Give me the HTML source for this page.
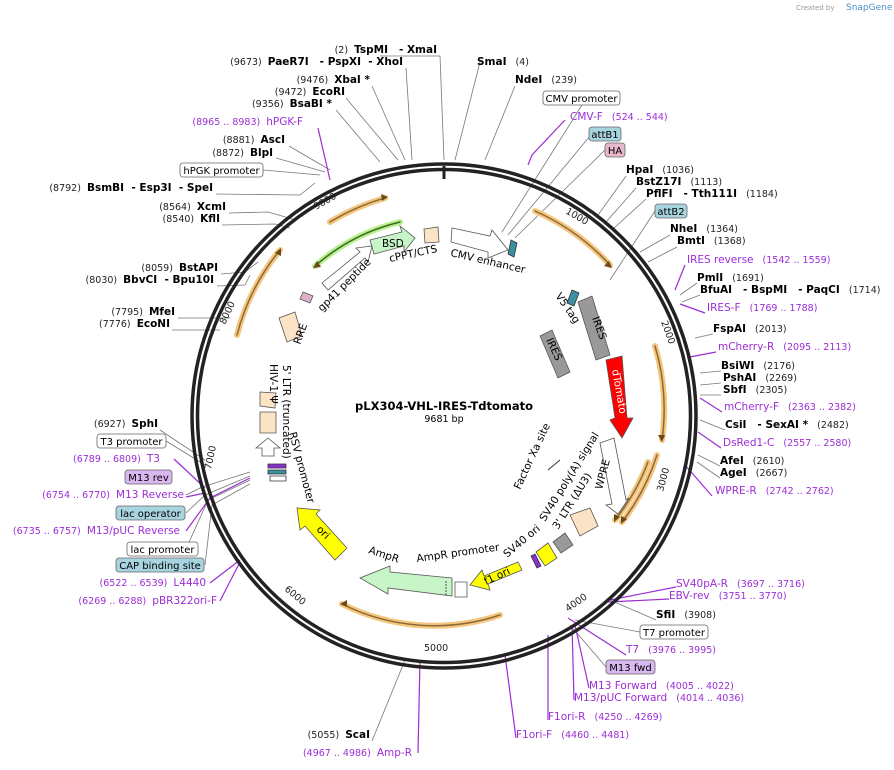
<!DOCTYPE html>
<html><head><meta charset="utf-8"><style>
html,body{margin:0;padding:0;background:#fff;}
svg{display:block;font-family:"DejaVu Sans","Liberation Sans",sans-serif;}
text{white-space:pre}
.b{font-weight:bold;font-size:10.5px;fill:#000}
.n{font-size:9.5px;fill:#222}
.p{font-size:9.5px;fill:#9c2dd6}
.pl{font-size:10.5px;fill:#9c2dd6}
.f{font-size:10.5px;fill:#000}
.ln{stroke:#777;stroke-width:0.8;fill:none}
.pln{stroke:#9c2dd6;stroke-width:1.2;fill:none}
.box{fill:#fff;stroke:#666;stroke-width:0.8}
.bt{font-size:10px;fill:#000}
</style></head><body>
<svg width="894" height="770" viewBox="0 0 894 770">
<text x="796" y="10" font-size="7" fill="#999">Created by</text><text x="846" y="10" font-size="9" fill="#4a90c8">SnapGene</text>
<g class="ln">
<path d="M380 56 L440 56 L444 160"/><path d="M406 68 L412 160"/><path d="M372 86 L405 160"/><path d="M346 98 L398 160"/><path d="M336 110 L380 162"/>
<path d="M289 146 L330 170"/><path d="M276 158 L325 172"/><path d="M263 170 L320 175"/><path d="M216 194 L300 195 L315 183"/>
<path d="M229 213 L268 212 L296 220"/><path d="M222 225 L275 224 L290 228"/><path d="M221 274 L245 272 L258 262"/><path d="M217 286 L245 285 L250 275"/>
<path d="M178 318 L230 318"/><path d="M172 330 L220 330"/>
<path d="M160 430 L205 460"/><path d="M166 441 L205 465"/><path d="M186 495 L202 487 L250 472"/><path d="M186 513 L205 495 L250 476"/><path d="M186 549 L208 500 L250 480"/><path d="M205 565 L212 505 L250 484"/>
<path d="M372 741 L405 660"/><path d="M480 62 L455 160"/><path d="M515 86 L485 160"/><path d="M582 105 L502 232"/><path d="M590 136 L508 235"/><path d="M605 150 L515 238"/>
<path d="M626 176 L598 215"/><path d="M636 188 L606 222"/><path d="M646 199 L614 228"/><path d="M655 211 L610 280"/><path d="M670 235 L640 252"/><path d="M677 247 L648 262"/>
<path d="M697 283 L680 295"/><path d="M700 295 L682 302"/><path d="M713 334 L695 338"/><path d="M721 371 L700 373"/><path d="M721 383 L700 385"/><path d="M721 395 L700 395"/><path d="M725 430 L700 420"/><path d="M720 466 L698 455"/><path d="M720 478 L697 462"/>
<path d="M656 620 L610 600"/><path d="M640 632 L575 620"/><path d="M606 667 L570 625"/>
</g>
<g class="pln">
<path d="M318 128 L330 180"/><path d="M565 120 L532 155 L528 165"/><path d="M685 265 L675 290"/><path d="M705 313 L680 304"/><path d="M716 352 L690 357"/><path d="M722 412 L700 398"/><path d="M721 448 L698 432"/><path d="M712 496 L685 465"/>
<path d="M174 459 L205 488"/><path d="M186 497 L205 493"/><path d="M186 531 L210 498 L250 478"/><path d="M210 583 L240 560"/><path d="M220 601 L240 562"/>
<path d="M418 753 L420 660"/><path d="M676 587 L610 600"/><path d="M669 599 L608 602"/><path d="M626 655 L568 618"/><path d="M589 688 L575 625"/><path d="M574 700 L572 625"/><path d="M548 720 L548 635"/><path d="M516 738 L505 655"/>
</g>
<circle cx="444" cy="416" r="252" fill="none" stroke="#222" stroke-width="3.5"/>
<circle cx="444" cy="416" r="246.5" fill="none" stroke="#222" stroke-width="3.5"/>
<line x1="444" y1="166" x2="444" y2="179" stroke="#222" stroke-width="3"/>
<g fill="none" stroke-linecap="round">
<g stroke="#f5c77e" stroke-width="6">
<path d="M535 211 A225 225 0 0 1 610 265"/><path d="M655 346 A223 223 0 0 1 662 440"/><path d="M657 455 A220 220 0 0 1 622 522"/><path d="M648 462 A210 210 0 0 1 615 520"/>
<path d="M500 615 A207 207 0 0 1 342 604"/><path d="M237 335 A222 222 0 0 1 280 250"/><path d="M330 222 A227 227 0 0 1 385 198"/></g>
<g stroke="#8a6a3a" stroke-width="1.5">
<path d="M535 211 A225 225 0 0 1 610 265"/><path d="M655 346 A223 223 0 0 1 662 440"/><path d="M657 455 A220 220 0 0 1 622 522"/><path d="M648 462 A210 210 0 0 1 615 520"/>
<path d="M500 615 A207 207 0 0 1 342 604"/><path d="M237 335 A222 222 0 0 1 280 250"/><path d="M330 222 A227 227 0 0 1 385 198"/></g>
<path d="M315 266 A200 200 0 0 1 400 222" stroke="#b8f08c" stroke-width="6"/>
<path d="M315 266 A200 200 0 0 1 400 222" stroke="#3c6a2a" stroke-width="1.5"/>
</g>
<g fill="#6b4a1a"><path d="M612 268 l-8 -2 l5 -5z"/><path d="M662 442 l-4 -7 l7 0z"/><path d="M621 524 l0 -8 l6 3z"/><path d="M614 522 l0 -8 l6 3z"/><path d="M340 604 l7 -4 l0 7z"/><path d="M281 248 l0 8 l-6 -3z"/><path d="M388 197 l-7 -3 l1 7z"/><path d="M313 268 l8 -1 l-4 -6z"/></g>
<g stroke="#555" stroke-width="0.8">
<path d="M370 240 L402 232 L400 226 L415 238 L404 252 L404 246 L374 254z" fill="#c8f5c8"/>
<path d="M322 283 L360 252 L356 248 L372 246 L368 262 L365 258 L328 290z" fill="#fff"/>
<path d="M424 229 L438 227 L439 242 L425 243z" fill="#fde3c6"/>
<path d="M452 228 L490 236 L492 230 L508 250 L488 258 L488 252 L451 242z" fill="#fff"/>
<path d="M303 292 L313 296 L310 303 L300 299z" fill="#e0b0c8"/>
<path d="M279 318 L295 312 L302 336 L287 342z" fill="#fde3c6"/>
<path d="M260 392 L276 393 L275 408 L260 406z" fill="#fde3c6"/><path d="M260 412 L276 412 L276 433 L260 433z" fill="#fde3c6"/>
<path d="M262 456 L262 448 L256 448 L268 438 L280 448 L274 448 L274 456z" fill="#fff"/>
<path d="M578 302 L592 296 L610 355 L596 360z" fill="#999"/>
<path d="M540 336 L552 330 L570 372 L558 378z" fill="#999"/>
<path d="M606 360 L622 356 L627 418 L633 418 L622 438 L610 420 L615 418z" fill="#f00"/>
<path d="M600 443 L614 438 L626 500 L629 498 L618 514 L606 505 L612 504z" fill="#fff"/>
<path d="M570 515 L590 508 L598 526 L580 536z" fill="#fde3c6"/>
<path d="M553 542 L565 533 L573 545 L561 553z" fill="#999"/>
<path d="M536 552 L548 543 L557 558 L545 566z" fill="#ff0"/>
<path d="M522 570 L488 584 L490 590 L470 585 L482 570 L484 576 L518 562z" fill="#ff0"/>
<path d="M467 582 L455 582 L455 597 L467 597z" fill="#fff"/>
<path d="M452 578 L390 572 L390 566 L360 578 L388 594 L388 588 L452 596z" fill="#c8f5c8"/>
<path d="M347 548 L316 514 L320 510 L297 508 L300 530 L305 526 L335 560z" fill="#ff0"/>
</g>
<g stroke="#333" stroke-width="0.8"><path d="M446 581 L446 595" stroke-dasharray="2 1"/><path d="M511 240 l6 3 l-3 14 l-6 -3z" fill="#3a8fa0"/><path d="M572 290 l7 3 l-5 13 l-7 -3z" fill="#3a8fa0"/><path d="M268 464 h18 v4 h-18z" fill="#8a30d0"/><path d="M268 470 h18 v4 h-18z" fill="#3a8fa0"/><path d="M270 476 h16 v5 h-16z" fill="#fff"/><path d="M531 556 l4 -2 l6 12 l-4 2z" fill="#8a30d0"/></g>
<line x1="548" y1="470" x2="560" y2="460" stroke="#333"/>
<text x="382" y="247" class="f" font-size="11">BSD</text>
<text x="390" y="262" class="f" transform="rotate(-12 390 262)">cPPT/CTS</text>
<text x="450" y="256" class="f" transform="rotate(13 450 256)">CMV enhancer</text>
<text x="322" y="312" class="f" transform="rotate(-45 322 312)">gp41 peptide</text>
<text x="300" y="345" class="f" transform="rotate(-70 300 345)">RRE</text>
<text x="283" y="365" class="f" transform="rotate(90 283 365)">5' LTR (truncated)</text>
<text x="270" y="364" class="f" transform="rotate(90 270 364)">HIV-1 Ψ</text>
<text x="289" y="433" class="f" transform="rotate(75 289 433)">RSV promoter</text>
<text x="316" y="530" class="f" transform="rotate(45 316 530)">ori</text>
<text x="368" y="553" class="f" transform="rotate(18 368 553)">AmpR</text>
<text x="417" y="562" class="f" transform="rotate(-8 417 562)">AmpR promoter</text>
<text x="486" y="585" class="f" transform="rotate(-25 486 585)">f1 ori</text>
<text x="507" y="558" class="f" transform="rotate(-40 507 558)">SV40 ori</text>
<text x="545" y="522" class="f" transform="rotate(-58 545 522)">SV40 poly(A) signal</text>
<text x="558" y="530" class="f" transform="rotate(-58 558 530)">3' LTR (ΔU3)</text>
<text x="520" y="490" class="f" transform="rotate(-65 520 490)">Factor Xa site</text>
<text x="602" y="490" class="f" transform="rotate(-75 602 490)">WPRE</text>
<text x="612" y="370" font-size="10.5" fill="#fff" transform="rotate(80 612 370)">dTomato</text>
<text x="592" y="318" class="f" transform="rotate(70 592 318)">IRES</text>
<text x="546" y="340" class="f" transform="rotate(65 546 340)">IRES</text>
<text x="555" y="296" class="f" transform="rotate(55 555 296)">V5 tag</text>
<text x="444" y="410" text-anchor="middle" font-weight="bold" font-size="11.5">pLX304-VHL-IRES-Tdtomato</text>
<text x="444" y="422" text-anchor="middle" font-size="9.5">9681 bp</text>
<g class="n" font-size="9.5">
<text x="565" y="213" transform="rotate(30 565 213)">1000</text><text x="661" y="322" transform="rotate(70 661 322)">2000</text><text x="663" y="492" transform="rotate(-75 663 492)">3000</text>
<text x="568" y="612" transform="rotate(-35 568 612)">4000</text><text x="424" y="651">5000</text><text x="284" y="590" transform="rotate(40 284 590)">6000</text>
<text x="211" y="470" transform="rotate(-78 211 470)">7000</text><text x="225" y="325" transform="rotate(-65 225 325)">8000</text><text x="316" y="210" transform="rotate(-30 316 210)">9000</text>
</g>
<g text-anchor="end">
<text x="437" y="53"><tspan class="n">(2)  </tspan><tspan class="b">TspMI   - XmaI</tspan></text>
<text x="403" y="65"><tspan class="n">(9673)  </tspan><tspan class="b">PaeR7I   - PspXI  - XhoI</tspan></text>
<text x="370" y="83"><tspan class="n">(9476)  </tspan><tspan class="b">XbaI *</tspan></text>
<text x="345" y="95"><tspan class="n">(9472)  </tspan><tspan class="b">EcoRI</tspan></text>
<text x="332" y="107"><tspan class="n">(9356)  </tspan><tspan class="b">BsaBI *</tspan></text>
<text x="303" y="125"><tspan class="p">(8965 .. 8983)  </tspan><tspan class="pl">hPGK-F</tspan></text>
<text x="285" y="143"><tspan class="n">(8881)  </tspan><tspan class="b">AscI</tspan></text>
<text x="273" y="156"><tspan class="n">(8872)  </tspan><tspan class="b">BlpI</tspan></text>
<text x="213" y="191"><tspan class="n">(8792)  </tspan><tspan class="b">BsmBI  - Esp3I  - SpeI</tspan></text>
<text x="226" y="210"><tspan class="n">(8564)  </tspan><tspan class="b">XcmI</tspan></text>
<text x="220" y="222"><tspan class="n">(8540)  </tspan><tspan class="b">KflI</tspan></text>
<text x="218" y="271"><tspan class="n">(8059)  </tspan><tspan class="b">BstAPI</tspan></text>
<text x="214" y="283"><tspan class="n">(8030)  </tspan><tspan class="b">BbvCI  - Bpu10I</tspan></text>
<text x="175" y="315"><tspan class="n">(7795)  </tspan><tspan class="b">MfeI</tspan></text>
<text x="170" y="327"><tspan class="n">(7776)  </tspan><tspan class="b">EcoNI</tspan></text>
<text x="158" y="427"><tspan class="n">(6927)  </tspan><tspan class="b">SphI</tspan></text>
<text x="160" y="462"><tspan class="p">(6789 .. 6809)  </tspan><tspan class="pl">T3</tspan></text>
<text x="184" y="498"><tspan class="p">(6754 .. 6770)  </tspan><tspan class="pl">M13 Reverse</tspan></text>
<text x="180" y="534"><tspan class="p">(6735 .. 6757)  </tspan><tspan class="pl">M13/pUC Reverse</tspan></text>
<text x="206" y="586"><tspan class="p">(6522 .. 6539)  </tspan><tspan class="pl">L4440</tspan></text>
<text x="217" y="604"><tspan class="p">(6269 .. 6288)  </tspan><tspan class="pl">pBR322ori-F</tspan></text>
<text x="370" y="738"><tspan class="n">(5055)  </tspan><tspan class="b">ScaI</tspan></text>
<text x="412" y="756"><tspan class="p">(4967 .. 4986)  </tspan><tspan class="pl">Amp-R</tspan></text>
</g>
<rect x="180" y="163" width="83" height="14" rx="3" class="box"/><text x="221.5" y="174" class="bt" text-anchor="middle">hPGK promoter</text>
<rect x="97" y="434" width="69" height="14" rx="3" class="box"/><text x="131.5" y="445" class="bt" text-anchor="middle">T3 promoter</text>
<rect x="125" y="470" width="47" height="14" rx="3" fill="#d9b8f0" stroke="#666" stroke-width="0.8"/><text x="148.5" y="481" class="bt" text-anchor="middle">M13 rev</text>
<rect x="116" y="506" width="69" height="14" rx="3" fill="#a8d4e0" stroke="#666" stroke-width="0.8"/><text x="150.5" y="517" class="bt" text-anchor="middle">lac operator</text>
<rect x="127" y="542" width="71" height="14" rx="3" class="box"/><text x="162.5" y="553" class="bt" text-anchor="middle">lac promoter</text>
<rect x="116" y="558" width="88" height="14" rx="3" fill="#a8d4e0" stroke="#666" stroke-width="0.8"/><text x="160" y="569" class="bt" text-anchor="middle">CAP binding site</text>
<text x="477" y="65"><tspan class="b">SmaI</tspan><tspan class="n">   (4)</tspan></text>
<text x="515" y="83"><tspan class="b">NdeI</tspan><tspan class="n">   (239)</tspan></text>
<rect x="543" y="91" width="77" height="14" rx="3" class="box"/><text x="581.5" y="102" class="bt" text-anchor="middle">CMV promoter</text>
<text x="570" y="120"><tspan class="pl">CMV-F</tspan><tspan class="p">   (524 .. 544)</tspan></text>
<rect x="589" y="127" width="32" height="14" rx="3" fill="#a8d4e0" stroke="#666" stroke-width="0.8"/><text x="605" y="138" class="bt" text-anchor="middle">attB1</text>
<rect x="605" y="143" width="20" height="14" rx="3" fill="#e8b8cc" stroke="#666" stroke-width="0.8"/><text x="615" y="154" class="bt" text-anchor="middle">HA</text>
<text x="626" y="173"><tspan class="b">HpaI</tspan><tspan class="n">   (1036)</tspan></text>
<text x="636" y="185"><tspan class="b">BstZ17I</tspan><tspan class="n">   (1113)</tspan></text>
<text x="646" y="197"><tspan class="b">PflFI   - Tth111I</tspan><tspan class="n">   (1184)</tspan></text>
<rect x="655" y="204" width="32" height="14" rx="3" fill="#a8d4e0" stroke="#666" stroke-width="0.8"/><text x="671" y="215" class="bt" text-anchor="middle">attB2</text>
<text x="670" y="232"><tspan class="b">NheI</tspan><tspan class="n">   (1364)</tspan></text>
<text x="677" y="244"><tspan class="b">BmtI</tspan><tspan class="n">   (1368)</tspan></text>
<text x="687" y="263"><tspan class="pl">IRES reverse</tspan><tspan class="p">   (1542 .. 1559)</tspan></text>
<text x="697" y="281"><tspan class="b">PmlI</tspan><tspan class="n">   (1691)</tspan></text>
<text x="700" y="293"><tspan class="b">BfuAI   - BspMI   - PaqCI</tspan><tspan class="n">   (1714)</tspan></text>
<text x="707" y="311"><tspan class="pl">IRES-F</tspan><tspan class="p">   (1769 .. 1788)</tspan></text>
<text x="713" y="332"><tspan class="b">FspAI</tspan><tspan class="n">   (2013)</tspan></text>
<text x="718" y="350"><tspan class="pl">mCherry-R</tspan><tspan class="p">   (2095 .. 2113)</tspan></text>
<text x="721" y="369"><tspan class="b">BsiWI</tspan><tspan class="n">   (2176)</tspan></text>
<text x="723" y="381"><tspan class="b">PshAI</tspan><tspan class="n">   (2269)</tspan></text>
<text x="723" y="393"><tspan class="b">SbfI</tspan><tspan class="n">   (2305)</tspan></text>
<text x="724" y="410"><tspan class="pl">mCherry-F</tspan><tspan class="p">   (2363 .. 2382)</tspan></text>
<text x="725" y="428"><tspan class="b">CsiI   - SexAI *</tspan><tspan class="n">   (2482)</tspan></text>
<text x="723" y="446"><tspan class="pl">DsRed1-C</tspan><tspan class="p">   (2557 .. 2580)</tspan></text>
<text x="720" y="464"><tspan class="b">AfeI</tspan><tspan class="n">   (2610)</tspan></text>
<text x="720" y="476"><tspan class="b">AgeI</tspan><tspan class="n">   (2667)</tspan></text>
<text x="715" y="494"><tspan class="pl">WPRE-R</tspan><tspan class="p">   (2742 .. 2762)</tspan></text>
<text x="676" y="587"><tspan class="pl">SV40pA-R</tspan><tspan class="p">   (3697 .. 3716)</tspan></text>
<text x="669" y="599"><tspan class="pl">EBV-rev</tspan><tspan class="p">   (3751 .. 3770)</tspan></text>
<text x="656" y="618"><tspan class="b">SfiI</tspan><tspan class="n">   (3908)</tspan></text>
<rect x="640" y="625" width="68" height="14" rx="3" class="box"/><text x="674" y="636" class="bt" text-anchor="middle">T7 promoter</text>
<text x="626" y="653"><tspan class="pl">T7</tspan><tspan class="p">   (3976 .. 3995)</tspan></text>
<rect x="606" y="660" width="49" height="14" rx="3" fill="#d9b8f0" stroke="#666" stroke-width="0.8"/><text x="630.5" y="671" class="bt" text-anchor="middle">M13 fwd</text>
<text x="589" y="689"><tspan class="pl">M13 Forward</tspan><tspan class="p">   (4005 .. 4022)</tspan></text>
<text x="574" y="701"><tspan class="pl">M13/pUC Forward</tspan><tspan class="p">   (4014 .. 4036)</tspan></text>
<text x="548" y="720"><tspan class="pl">F1ori-R</tspan><tspan class="p">   (4250 .. 4269)</tspan></text>
<text x="516" y="738"><tspan class="pl">F1ori-F</tspan><tspan class="p">   (4460 .. 4481)</tspan></text>
</svg>
</body></html>
